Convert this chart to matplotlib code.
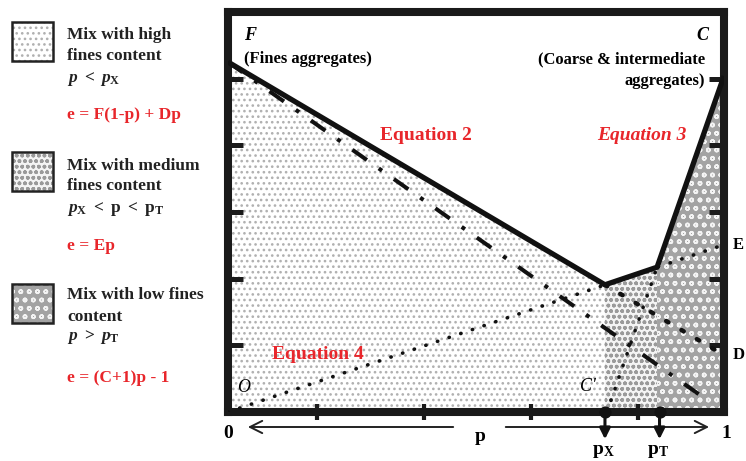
import matplotlib
matplotlib.use("Agg")
import matplotlib.pyplot as plt
from matplotlib.patches import Rectangle

# ---------- DATA (both axes run 0..1) ----------
# corners of the upper envelope: F, px, pT, C
env_p = [0.0, 0.760, 0.865, 1.0]
env_e = [0.875, 0.318, 0.362, 0.840]

# equation lines drawn past the envelope
eq_fines_p = [0.0, 0.96]          # F(1-p), dash-dot
eq_fines_e = [0.875, 0.035]
eq2_tail_p = [0.760, 1.0]         # F(1-p)+Dp beyond px, bold dots
eq2_tail_e = [0.318, 0.142]
eq4_p = [0.0, 0.99]               # Ep, small dots
eq4_e = [0.0, 0.414]
eq3_tail_p = [0.764, 0.865]       # (C+1)p-1 below pT, small dots
eq3_tail_e = [0.0, 0.362]

marker_p = [0.760, 0.870]         # px, pT
marker_lbl = [r"$\mathrm{p}_{\mathrm{X}}$", r"$\mathrm{p}_{\mathrm{T}}$"]

y_ticks = [1/6, 2/6, 3/6, 4/6, 5/6]
x_ticks = [0.18, 0.395, 0.61, 0.826]

RED = "#e8262b"
SERIF = "Liberation Serif"

plt.rcParams["font.family"] = SERIF
plt.rcParams["font.weight"] = "bold"
plt.rcParams["mathtext.fontset"] = "custom"
plt.rcParams["mathtext.rm"] = "Liberation Serif:bold"
plt.rcParams["mathtext.it"] = "Liberation Serif:italic:bold"
plt.rcParams["hatch.linewidth"] = 1.1

W, H = 746, 461
fig = plt.figure(figsize=(W / 100, H / 100), dpi=100)


def fx(px):
    return px / W


def fy(py):
    return 1 - py / H


ax = fig.add_axes([fx(228), fy(412), fx(724) - fx(228), fy(12) - fy(412)])
ax.set_xlim(0, 1)
ax.set_ylim(0, 1)
for s in ax.spines.values():
    s.set_linewidth(5.8)
    s.set_color("#1a1a1a")
    s.set_capstyle("projecting")

# --- textured regions under the envelope ---
fills = [
    dict(hatch="...", fc="white", ec="#b0b0b0"),
    dict(hatch="ooo", fc="#f4f4f4", ec="#9a9a9a"),
    dict(hatch="oo", fc="#a3a3a3", ec="#f4f4f4"),
]
for i, st in enumerate(fills):
    ax.fill_between(env_p[i:i + 2], env_e[i:i + 2], 0, facecolor=st["fc"],
                    edgecolor=st["ec"], hatch=st["hatch"], linewidth=0, zorder=1)

# --- lines ---
ax.plot(eq_fines_p, eq_fines_e, color="#111", lw=2.9,
        linestyle=(0, (4.4, 3.6, 1.0, 3.6)), zorder=3)
ax.plot(eq4_p, eq4_e, color="#111", lw=2.6, linestyle=(0, (0.1, 3.3)),
        dash_capstyle="round", zorder=3)
ax.plot(eq3_tail_p, eq3_tail_e, color="#111", lw=2.6, linestyle=(0, (0.1, 3.3)),
        dash_capstyle="round", zorder=3)
ax.plot(eq2_tail_p, eq2_tail_e, color="#111", lw=3.2, linestyle=(0, (0.6, 3.4)),
        dash_capstyle="round", zorder=3)
ax.plot(env_p, env_e, color="#111", lw=3.8, solid_joinstyle="miter",
        solid_capstyle="butt", zorder=4)

# --- ticks ---
ax.set_yticks(y_ticks)
ax.set_xticks(x_ticks)
ax.tick_params(axis="y", which="major", direction="in", length=11, width=3.6,
               color="#1a1a1a", left=True, right=True, labelleft=False)
ax.tick_params(axis="x", which="major", direction="inout", length=11, width=3,
               color="#1a1a1a", top=False, labelbottom=False)

# --- labels inside the plot ---
ax.text(0.032, 0.9425, "F", fontsize=13, style="italic", va="center", ha="left")
ax.text(0.032, 0.8825, "(Fines aggregates)", fontsize=12, va="center", ha="left")
ax.text(0.968, 0.9425, "C", fontsize=13, style="italic", va="center", ha="right")
ax.text(0.962, 0.8825, "(Coarse & intermediate", fontsize=12, va="center", ha="right")
ax.text(0.962, 0.8275, "aggregates)", fontsize=12, va="center", ha="right")
ax.text(0.399, 0.6925, "Equation 2", fontsize=14, color=RED, va="center", ha="center")
ax.text(0.835, 0.6925, "Equation 3", fontsize=14, color=RED, style="italic",
        va="center", ha="center")
ax.text(0.181, 0.145, "Equation 4", fontsize=14, color=RED, va="center", ha="center")
ax.text(0.032, 0.0625, "O", fontsize=13, style="italic", va="center", ha="center",
        weight="normal")
ax.text(0.726, 0.065, "C'", fontsize=13, style="italic", va="center", ha="center",
        weight="normal", zorder=5)
ax.text(1.018, 0.4175, "E", fontsize=12, va="center", ha="left", clip_on=False)
ax.text(1.018, 0.1425, "D", fontsize=12, va="center", ha="left", clip_on=False)

# --- p axis under the plot ---
ax.text(0.0, -0.0525, "0", fontsize=14, va="center", ha="center", clip_on=False)
ax.text(1.004, -0.0525, "1", fontsize=14, va="center", ha="center", clip_on=False)
ax.text(0.508, -0.06, "p", fontsize=14, va="center", ha="center", clip_on=False)
arrow = dict(arrowstyle="->", lw=1.4, color="#222", mutation_scale=22,
             shrinkA=0, shrinkB=0)
ax.annotate("", xy=(0.040, -0.0375), xytext=(0.454, -0.0375), arrowprops=arrow,
            annotation_clip=False)
ax.annotate("", xy=(0.97, -0.0375), xytext=(0.56, -0.0375), arrowprops=arrow,
            annotation_clip=False)

down = dict(arrowstyle="-|>", lw=2.2, color="#111", mutation_scale=16,
            shrinkA=0, shrinkB=0)
for p, lbl in zip(marker_p, marker_lbl):
    ax.annotate("", xy=(p, -0.068), xytext=(p, 0), arrowprops=down,
                annotation_clip=False)
    ax.text(p - 0.004, -0.0975, lbl, fontsize=14, va="center", ha="center",
            clip_on=False)
ax.scatter(marker_p, [0, 0], s=60, color="#111", zorder=6, clip_on=False)

# --- legend on the left ---
swatch_top = [22, 152, 284]
for st, top in zip(fills, swatch_top):
    fig.add_artist(Rectangle((fx(12), fy(top + 39)), fx(53) - fx(12), fy(top) - fy(top + 39),
                             transform=fig.transFigure, facecolor=st["fc"],
                             edgecolor=st["ec"], hatch=st["hatch"], lw=0))
    fig.add_artist(Rectangle((fx(12), fy(top + 39)), fx(53) - fx(12), fy(top) - fy(top + 39),
                             transform=fig.transFigure, facecolor="none",
                             edgecolor="#222", lw=1.8))

legend_lines = [
    (35, "Mix with high", "#222"),
    (56, "fines content", "#222"),
    (79, r"$p\ <\ p_{\mathrm{X}}$", "#222"),
    (115, "e = F(1-p) + Dp", RED),
    (166, "Mix with medium", "#222"),
    (186, "fines content", "#222"),
    (209, r"$p_{\mathrm{X}}\ \mathrm{<\ p\ <\ p}_{\mathrm{T}}$", "#222"),
    (246, "e = Ep", RED),
    (295, "Mix with low fines", "#222"),
    (317, "content", "#222"),
    (337, r"$p\ >\ p_{\mathrm{T}}$", "#222"),
    (378, "e = (C+1)p - 1", RED),
]
for py, txt, col in legend_lines:
    fig.text(fx(67), fy(py), txt, fontsize=12.5, color=col, va="center", ha="left")

fig.savefig("out.png", dpi=100)
